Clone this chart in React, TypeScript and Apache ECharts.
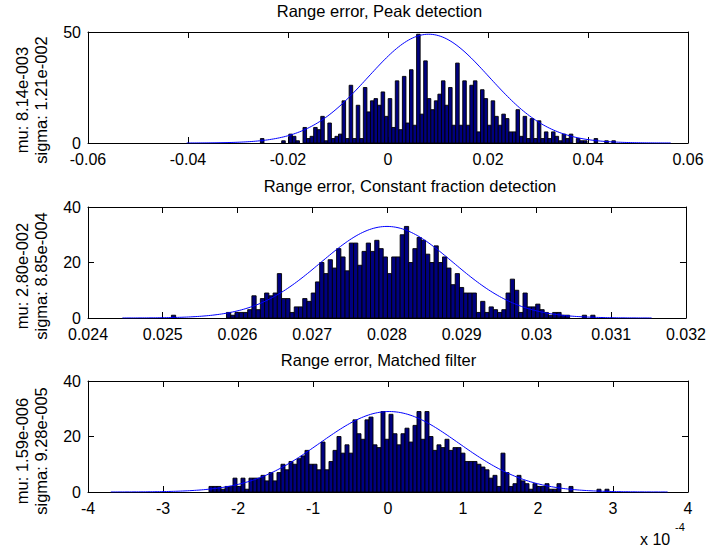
import React, { useEffect, useRef } from 'react';
import * as echarts from 'echarts';

// ---------- Data ----------
// Peak detection histogram (100 bins)
const peakCounts = [
  2, 0, 0, 0, 0, 0, 1, 0, 4, 3,
  1, 0, 7, 2, 3, 7, 6, 12, 1, 9,
  2, 3, 4, 19, 2, 26, 2, 17, 2, 25,
  14, 19, 20, 17, 23, 12, 20, 7, 28, 6,
  30, 9, 33, 8, 49, 13, 37, 20, 15, 19,
  22, 28, 17, 25, 8, 36, 8, 28, 8, 26,
  28, 5, 24, 20, 8, 19, 12, 8, 13, 11,
  5, 5, 15, 3, 12, 2, 11, 2, 10, 2,
  5, 2, 5, 3, 1, 4, 2, 4, 0, 2,
  1, 1, 0, 0, 2, 0, 0, 1, 0, 1,
];
const peakBinStart = -0.02552;
const peakBinWidth = 0.00071;
const peakMu = 0.00814;
const peakSigma = 0.0121;
const peakFitHeight = 49;

// Constant fraction detection histogram (100 bins)
const cfdCounts = [
  1, 0, 0, 0, 0, 0, 0, 0, 0, 0,
  0, 0, 0, 2, 1, 2, 2, 2, 3, 8,
  3, 7, 9, 8, 9, 16, 7, 7, 2, 4,
  4, 7, 6, 9, 13, 20, 16, 21, 18, 25,
  22, 17, 27, 27, 19, 24, 27, 24, 28, 25,
  22, 16, 22, 22, 30, 33, 20, 25, 29, 28,
  23, 20, 26, 20, 22, 18, 12, 16, 11, 9,
  9, 9, 2, 6, 2, 4, 3, 2, 3, 9,
  14, 10, 2, 9, 4, 4, 5, 3, 2, 1,
  2, 2, 1, 1, 0, 0, 0, 1, 0, 1,
];
const cfdBinStart = 0.025116;
const cfdBinWidth = 0.00005667;
const cfdMu = 0.0280;
const cfdSigma = 0.000885;
const cfdFitHeight = 33;

// Matched filter histogram (100 bins), x in units of 1e-4
const mfCounts = [
  2, 2, 2, 1, 2, 2, 5, 2, 5, 1,
  5, 5, 5, 6, 4, 7, 4, 7, 10, 8,
  11, 10, 12, 13, 15, 10, 10, 8, 18, 8,
  11, 15, 20, 14, 17, 14, 26, 21, 19, 26,
  27, 17, 16, 29, 19, 28, 21, 17, 21, 23,
  18, 24, 29, 19, 29, 20, 15, 17, 16, 19,
  15, 16, 16, 14, 11, 11, 11, 10, 9, 8,
  5, 6, 2, 14, 7, 2, 3, 6, 4, 3,
  1, 3, 2, 2, 3, 1, 1, 3, 0, 0,
  2, 0, 0, 0, 0, 0, 0, 1, 0, 1,
];
const mfBinStart = -2.3867;
const mfBinWidth = 0.05333;
const mfMu = 0.0159;
const mfSigma = 0.928;
const mfFitHeight = 29;

const titles = [
  'Range error, Peak detection',
  'Range error, Constant fraction detection',
  'Range error, Matched filter',
];
const muLabels = ['mu: 8.14e-003', 'mu: 2.80e-002', 'mu: 1.59e-006'];
const sigmaLabels = ['sigma: 1.21e-002', 'sigma: 8.85e-004', 'sigma: 9.28e-005'];

const xRanges = [
  { min: -0.06, max: 0.06, interval: 0.02 },
  { min: 0.024, max: 0.032, interval: 0.001 },
  { min: -4, max: 4, interval: 1 },
];
const yRanges = [
  { min: 0, max: 50, interval: 50 },
  { min: 0, max: 40, interval: 20 },
  { min: 0, max: 40, interval: 20 },
];

// ---------- Layout ----------
const GRID_LEFT = 88;
const GRID_WIDTH = 600;
const GRID_HEIGHT = 111;
const GRID_TOPS = [32, 207, 381];
const TITLE_X = [379.5, 410, 378.5];
const TITLE_Y = [11, 186, 359.5];
const YLABEL_Y = [100, 276, 451];
const FONT = '"Liberation Sans", Arial, Helvetica, sans-serif';

function histData(counts: number[], start: number, width: number) {
  return counts.map((c, i) => [start + i * width, start + (i + 1) * width, c]);
}

function fitCurve(mu: number, sigma: number, height: number) {
  const pts: number[][] = [];
  const n = 240;
  for (let k = 0; k <= n; k++) {
    const x = mu - 4 * sigma + (8 * sigma * k) / n;
    const z = (x - mu) / sigma;
    pts.push([x, height * Math.exp(-0.5 * z * z)]);
  }
  return pts;
}

const fmt = (v: number) => String(Math.round(v * 1e6) / 1e6);

export default function App() {
  const ref = useRef<HTMLDivElement>(null);

  useEffect(() => {
    if (!ref.current) return;
    const chart = echarts.init(ref.current, undefined, { renderer: 'svg' });

    const grids = GRID_TOPS.map((top) => ({
      left: GRID_LEFT,
      top,
      width: GRID_WIDTH,
      height: GRID_HEIGHT,
      containLabel: false,
    }));

    const axisLine = { show: true, onZero: false, lineStyle: { color: '#000', width: 1 } };
    const tick = { show: true, inside: true, length: 6, lineStyle: { color: '#000', width: 1 } };
    const label = { color: '#000', fontSize: 16, fontFamily: FONT };

    const xAxes: any[] = [];
    const yAxes: any[] = [];
    for (let g = 0; g < 3; g++) {
      const xr = xRanges[g];
      const yr = yRanges[g];
      xAxes.push({
        type: 'value', gridIndex: g, position: 'bottom',
        min: xr.min, max: xr.max, interval: xr.interval,
        axisLine, axisTick: tick, splitLine: { show: false },
        axisLabel: { ...label, margin: 9, lineHeight: 14, formatter: fmt, showMinLabel: true, showMaxLabel: true },
      });
      xAxes.push({
        type: 'value', gridIndex: g, position: 'top',
        min: xr.min, max: xr.max, interval: xr.interval,
        axisLine, axisTick: tick, splitLine: { show: false },
        axisLabel: { show: false },
      });
      yAxes.push({
        type: 'value', gridIndex: g, position: 'left',
        min: yr.min, max: yr.max, interval: yr.interval,
        axisLine, axisTick: tick, splitLine: { show: false },
        axisLabel: { ...label, margin: 7, lineHeight: 11, formatter: fmt },
      });
      yAxes.push({
        type: 'value', gridIndex: g, position: 'right',
        min: yr.min, max: yr.max, interval: yr.interval,
        axisLine, axisTick: tick, splitLine: { show: false },
        axisLabel: { show: false },
      });
    }

    const hists = [
      histData(peakCounts, peakBinStart, peakBinWidth),
      histData(cfdCounts, cfdBinStart, cfdBinWidth),
      histData(mfCounts, mfBinStart, mfBinWidth),
    ];
    const fits = [
      fitCurve(peakMu, peakSigma, peakFitHeight),
      fitCurve(cfdMu, cfdSigma, cfdFitHeight),
      fitCurve(mfMu, mfSigma, mfFitHeight),
    ];

    const series: any[] = [];
    for (let g = 0; g < 3; g++) {
      series.push({
        type: 'custom',
        xAxisIndex: 2 * g,
        yAxisIndex: 2 * g,
        data: hists[g],
        encode: { x: [0, 1], y: 2 },
        renderItem: (params: any, api: any) => {
          const c = api.value(2);
          if (!c) return null;
          const p0 = api.coord([api.value(0), c]);
          const p1 = api.coord([api.value(1), 0]);
          return {
            type: 'rect',
            shape: { x: p0[0], y: p0[1], width: p1[0] - p0[0], height: p1[1] - p0[1] },
            style: { fill: '#000080', stroke: '#000', lineWidth: 0.9 },
          };
        },
      });
      series.push({
        type: 'line',
        xAxisIndex: 2 * g,
        yAxisIndex: 2 * g,
        data: fits[g],
        showSymbol: false,
        symbol: 'none',
        lineStyle: { color: '#0000ff', width: 1 },
        z: 5,
      });
    }

    const textEl = (text: string, x: number, y: number, size: number, rot = 0, align = 'center') => ({
      type: 'text',
      x, y,
      rotation: rot,
      style: {
        text,
        fill: '#000',
        font: `${size}px ${FONT}`,
        fontSize: size,
        fontFamily: FONT,
        align, textAlign: align,
        verticalAlign: 'middle', textVerticalAlign: 'middle',
      },
    });

    const graphics: any[] = [];
    for (let g = 0; g < 3; g++) {
      graphics.push(textEl(titles[g], TITLE_X[g], TITLE_Y[g], 16.5));
      graphics.push(textEl(muLabels[g], 22, YLABEL_Y[g], 16.5, Math.PI / 2));
      graphics.push(textEl(sigmaLabels[g], 41, YLABEL_Y[g], 16.5, Math.PI / 2));
    }
    graphics.push(textEl('x 10', 640, 539, 16, 0, 'left'));
    graphics.push(textEl('-4', 675, 527, 11, 0, 'left'));

    chart.setOption({
      animation: false,
      backgroundColor: '#ffffff',
      grid: grids,
      xAxis: xAxes,
      yAxis: yAxes,
      series,
      graphic: graphics,
    });

    return () => chart.dispose();
  }, []);

  return (
    <div
      ref={ref}
      style={{ position: 'absolute', left: 0, top: 0, width: 709, height: 552 }}
    />
  );
}
